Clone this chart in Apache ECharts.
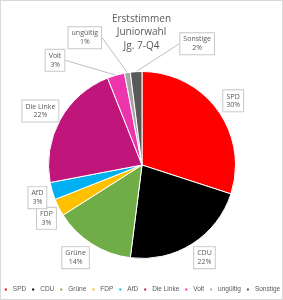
<!DOCTYPE html>
<html>
<head>
<meta charset="utf-8">
<script src="https://cdn.jsdelivr.net/npm/echarts@6/dist/echarts.min.js"></script>
<style>
  html, body { margin: 0; padding: 0; background: #fff; }
  #chart { width: 281px; height: 298px; border: 1px solid #d9d9d9; }
</style>
</head>
<body>
<div id="chart"></div>
<script>
// Erststimmen Juniorwahl, Anteile in Prozent
var parties = ['SPD', 'CDU', 'Grüne', 'FDP', 'AfD', 'Die Linke', 'Volt', 'ungültig', 'Sonstige'];
var votes = [30, 22, 14, 3, 3, 22, 3, 1, 2];
var partyColors = ['#ff0000', '#000000', '#70ad47', '#ffc000', '#00b0f0', '#c0157b', '#ec34ad', '#a6a6a6', '#595959'];

// Verschiebung der Beschriftungen (wie die Callouts in Excel)
var labelShift = [[-1, -8], [-4, 12], [3, 12], [4, 10], [1, 6], [5, -8], [-46, -13], [-21, -33], [83, -26]];
// nur die kleinen Stücke oben haben eine Führungslinie
var withLine = ['Volt', 'ungültig', 'Sonstige'];

var textFont = "'Open Sans', sans-serif";

var chart = echarts.init(document.getElementById('chart'), null, { renderer: 'canvas' });

var pieData = parties.map(function (name, i) {
  return {
    name: name,
    value: votes[i],
    itemStyle: { color: partyColors[i] },
    labelLine: { show: withLine.indexOf(name) >= 0 }
  };
});

chart.setOption({
  animation: false,
  title: {
    text: 'Erststimmen\nJuniorwahl\nJg. 7-Q4',
    left: 'center',
    top: 6,
    textStyle: {
      fontFamily: 'Open Sans',
      fontSize: 10,
      fontWeight: 'normal',
      lineHeight: 13.5,
      color: '#595959'
    }
  },
  legend: {
    bottom: 6,
    left: 'center',
    padding: 0,
    icon: 'rect',
    itemWidth: 4,
    itemHeight: 4,
    itemGap: 4,
    textStyle: { fontFamily: "'Liberation Sans', Arial, sans-serif", fontSize: 6.5, color: '#595959' },
    data: parties
  },
  series: [{
    type: 'pie',
    center: [141, 164],
    radius: 93.5,
    startAngle: 90,
    clockwise: true,
    avoidLabelOverlap: false,
    percentPrecision: 0,
    emphasis: { disabled: true },
    itemStyle: { borderColor: '#ffffff', borderWidth: 1 },
    label: {
      show: true,
      position: 'outside',
      formatter: '{b}\n{d}%',
      fontFamily: textFont,
      fontSize: 7,
      lineHeight: 8.5,
      color: '#595959',
      align: 'center',
      backgroundColor: '#ffffff',
      borderColor: '#c8c8c8',
      borderWidth: 1,
      padding: [2, 3]
    },
    labelLine: {
      length: 2,
      length2: 0,
      lineStyle: { color: '#bfbfbf', width: 1 }
    },
    labelLayout: function (params) {
      var s = labelShift[params.dataIndex];
      var r = params.labelRect;
      return {
        x: r.x + r.width / 2 + s[0],
        y: r.y + r.height / 2 + s[1],
        align: 'center',
        verticalAlign: 'middle'
      };
    },
    data: pieData
  }]
});
</script>
</body>
</html>
